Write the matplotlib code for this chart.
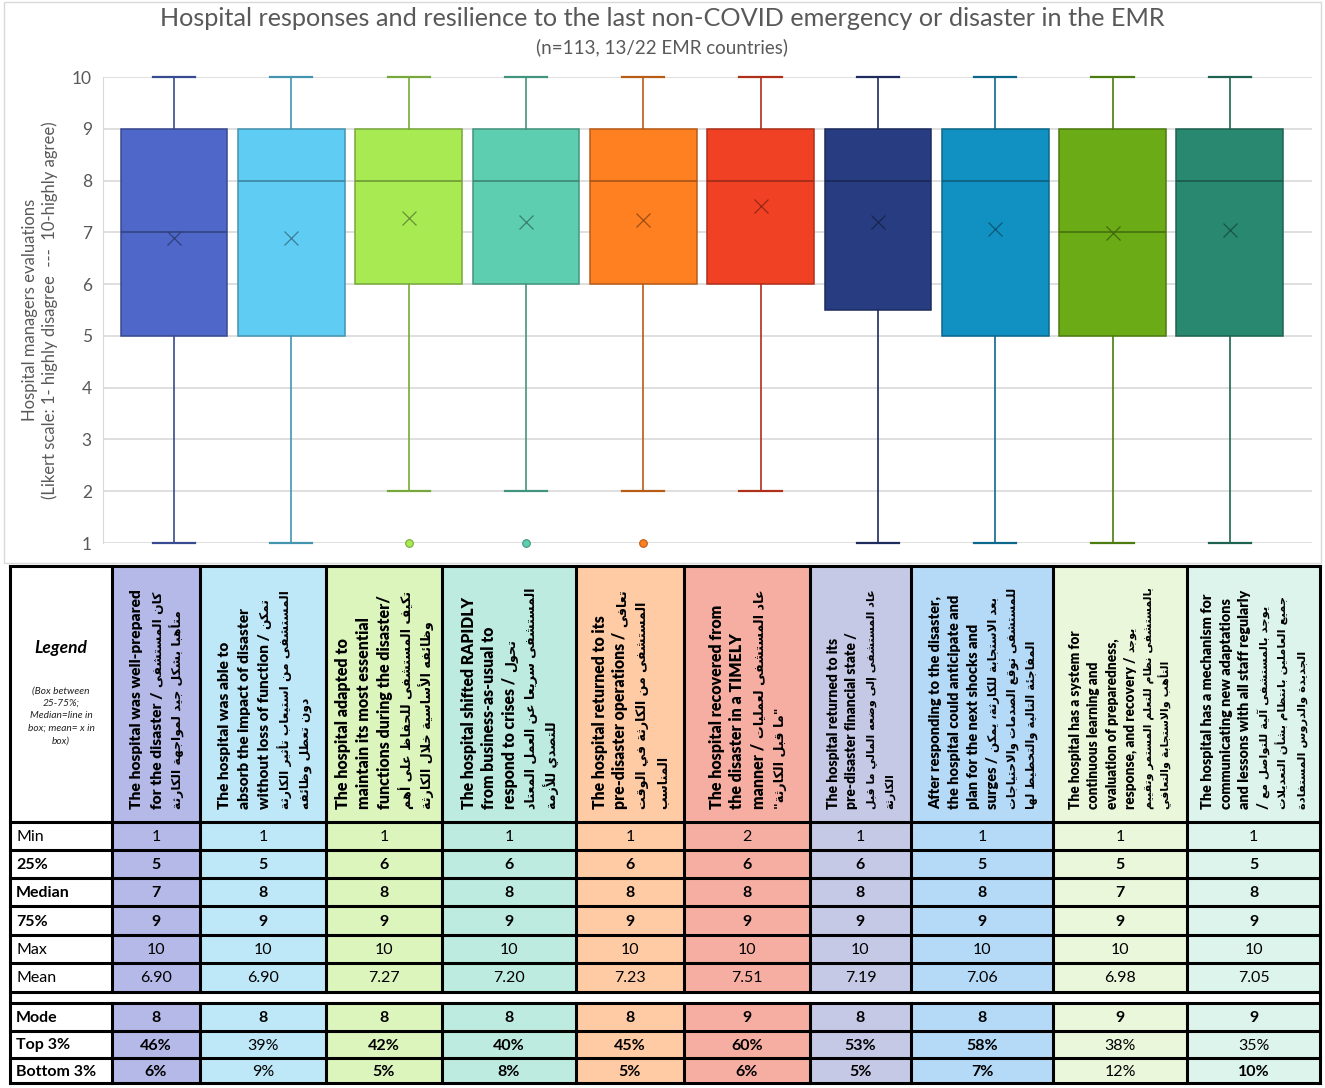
import matplotlib
matplotlib.use("Agg")
import matplotlib.pyplot as plt
from matplotlib.patches import Rectangle
import numpy as np

# ---------------- data ----------------
header_lines = [
    [("The hospital was well-prepared", ""), ("for the disaster /", "كان المستشفى"),
     ("", "متأهبا بشكل جيد لمواجهة الكارثة")],
    [("The hospital was able to", ""), ("absorb the impact of disaster", ""),
     ("without loss of function /", "تمكن"), ("", "المستشفى من استيعاب تأثير الكارثة"),
     ("", "دون تعطل وظائفه")],
    [("The hospital adapted to", ""), ("maintain its most essential", ""),
     ("functions during the disaster/", ""), ("", "تكيف المستشفى للحفاظ على أهم"),
     ("", "وظائفه الأساسية خلال الكارثة")],
    [("The hospital shifted RAPIDLY", ""), ("from business-as-usual to", ""),
     ("respond to crises /", "تحول"), ("", "المستشفى سريعا عن العمل المعتاد"),
     ("", "للتصدي للأزمة")],
    [("The hospital returned to its", ""), ("pre-disaster operations /", "تعافى"),
     ("", "المستشفى من الكارثة في الوقت"), ("", "المناسب")],
    [("The hospital recovered from", ""), ("the disaster in a TIMELY", ""),
     ("manner /", "عاد المستشفى لعمليات"), ("", '"ما قبل الكارثة"')],
    [("The hospital returned to its", ""), ("pre-disaster financial state /", ""),
     ("", "عاد المستشفى إلى وضعه المالي ما قبل"), ("", "الكارثة")],
    [("After responding to the disaster,", ""), ("the hospital could anticipate and", ""),
     ("plan for the next shocks and", ""), ("surges /", "بعد الاستجابة للكارثة، يمكن"),
     ("", "للمستشفى توقع الصدمات والاحتياجات"), ("", "المفاجئة التالية والتخطيط لها")],
    [("The hospital has a system for", ""), ("continuous learning and", ""),
     ("evaluation of preparedness,", ""), ("response, and recovery /", "يوجد"),
     ("", "بالمستشفى نظام للتعلم المستمر وتقييم"), ("", "التأهب والاستجابة والتعافي")],
    [("The hospital has a mechanism for", ""), ("communicating new adaptations", ""),
     ("and lessons with all staff regularly", ""), ("/", "يوجد بالمستشفى آلية للتواصل مع"),
     ("", "جميع العاملين بانتظام بشأن التعديلات"), ("", "الجديدة والدروس المستفادة")],
]

whisker_low = [1, 1, 2, 2, 2, 2, 1, 1, 1, 1]
q1_box = [5, 5, 6, 6, 6, 6, 5.5, 5, 5, 5]
medians = [7, 8, 8, 8, 8, 8, 8, 8, 7, 8]
q3_vals = [9, 9, 9, 9, 9, 9, 9, 9, 9, 9]
max_vals = [10, 10, 10, 10, 10, 10, 10, 10, 10, 10]
means = [6.90, 6.90, 7.27, 7.20, 7.23, 7.51, 7.19, 7.06, 6.98, 7.05]
outliers = [[], [], [1], [1], [1], [], [], [], [], []]

table_min = [1, 1, 1, 1, 1, 2, 1, 1, 1, 1]
table_q1 = [5, 5, 6, 6, 6, 6, 6, 5, 5, 5]
modes = [8, 8, 8, 8, 8, 9, 8, 8, 9, 9]
top3 = [46, 39, 42, 40, 45, 60, 53, 58, 38, 35]
bottom3 = [6, 9, 5, 8, 5, 6, 5, 7, 12, 10]

row_labels = ["Min", "25%", "Median", "75%", "Max", "Mean", "Mode", "Top 3%", "Bottom 3%"]
yticks = [1, 2, 3, 4, 5, 6, 7, 8, 9, 10]

# ---------------- styles ----------------
fills = ['#4E67C8', '#5ECCF3', '#A7EA52', '#5DCEAF', '#FF8021',
         '#F14124', '#283C81', '#1191C1', '#6AAB16', '#298970']
lights = ['#B4B9E8', '#BEE8F8', '#DCF5BD', '#BEEBDF', '#FFCBA4',
          '#F7AEA2', '#C6C9E6', '#B5DAF7', '#EBF7DB', '#DDF4EC']
label_bold = [False, True, True, True, False, False, True, True, True]
top3_bold = [1, 0, 1, 1, 1, 1, 1, 1, 0, 0]
bottom3_bold = [1, 0, 1, 1, 1, 1, 1, 1, 0, 1]
GRAY = '#595959'
FAM = ['Lato', 'DejaVu Sans']
AR_FAM = ['DejaVu Sans']
AR_FAC = 0.80
HDR_WEIGHT = 'heavy'
plt.rcParams['font.family'] = FAM

# ---------------- Arabic shaping ----------------
_tab = [(0x0621, 0xFE80, 1), (0x0622, 0xFE81, 2), (0x0623, 0xFE83, 2), (0x0624, 0xFE85, 2),
        (0x0625, 0xFE87, 2), (0x0626, 0xFE89, 4), (0x0627, 0xFE8D, 2), (0x0628, 0xFE8F, 4),
        (0x0629, 0xFE93, 2), (0x062A, 0xFE95, 4), (0x062B, 0xFE99, 4), (0x062C, 0xFE9D, 4),
        (0x062D, 0xFEA1, 4), (0x062E, 0xFEA5, 4), (0x062F, 0xFEA9, 2), (0x0630, 0xFEAB, 2),
        (0x0631, 0xFEAD, 2), (0x0632, 0xFEAF, 2), (0x0633, 0xFEB1, 4), (0x0634, 0xFEB5, 4),
        (0x0635, 0xFEB9, 4), (0x0636, 0xFEBD, 4), (0x0637, 0xFEC1, 4), (0x0638, 0xFEC5, 4),
        (0x0639, 0xFEC9, 4), (0x063A, 0xFECD, 4), (0x0641, 0xFED1, 4), (0x0642, 0xFED5, 4),
        (0x0643, 0xFED9, 4), (0x0644, 0xFEDD, 4), (0x0645, 0xFEE1, 4), (0x0646, 0xFEE5, 4),
        (0x0647, 0xFEE9, 4), (0x0648, 0xFEED, 2), (0x0649, 0xFEEF, 2), (0x064A, 0xFEF1, 4)]
_AR = {chr(cp): [chr(b + k) for k in range(n)] for cp, b, n in _tab}
_LAMALEF = {'\u0622': ('\uFEF5', '\uFEF6'), '\u0623': ('\uFEF7', '\uFEF8'),
            '\u0625': ('\uFEF9', '\uFEFA'), '\u0627': ('\uFEFB', '\uFEFC')}


def shape_ar(text):
    s = [c for c in text if not ('\u064B' <= c <= '\u0652' or c == '\u0640')]
    toks = []
    i = 0
    while i < len(s):
        c = s[i]
        if c == '\u0644' and i + 1 < len(s) and s[i + 1] in _LAMALEF:
            toks.append(('L', _LAMALEF[s[i + 1]]))
            i += 2
            continue
        toks.append(('A', _AR[c]) if c in _AR else ('O', c))
        i += 1
    out = []
    for j, (kind, f) in enumerate(toks):
        if kind == 'O':
            out.append(f)
            continue
        prev = toks[j - 1] if j > 0 else None
        nxt = toks[j + 1] if j + 1 < len(toks) else None
        jp = prev is not None and prev[0] == 'A' and len(prev[1]) == 4
        if kind == 'L':
            out.append(f[1] if jp else f[0])
            continue
        jp = jp and len(f) >= 2
        jn = len(f) == 4 and nxt is not None and (nxt[0] == 'L' or (nxt[0] == 'A' and len(nxt[1]) >= 2))
        if jp and jn:
            out.append(f[3])
        elif jp:
            out.append(f[1])
        elif jn:
            out.append(f[2])
        else:
            out.append(f[0])
    return ''.join(out)


def ar(text):
    return shape_ar(text)[::-1] if text else ''


# ---------------- figure ----------------
W, H = 1325, 1088
fig = plt.figure(figsize=(W / 100, H / 100), dpi=100)
fig.patch.set_facecolor('white')

tab = fig.add_axes([0, 0, 1, 1], zorder=0)
tab.set_xlim(0, W)
tab.set_ylim(H, 0)
tab.axis('off')
tab.add_patch(Rectangle((4, 2), W - 8, 561, fill=False, edgecolor='#D9D9D9', lw=1))

ax_l, ax_r, ax_t, ax_b = 103, 1312, 77, 543
ax = fig.add_axes([ax_l / W, 1 - ax_b / H, (ax_r - ax_l) / W, (ax_b - ax_t) / H], zorder=2)
ax.set_facecolor('none')

n = len(medians)
positions = np.arange(1, n + 1)
stats = []
for i in range(n):
    stats.append(dict(whislo=whisker_low[i], q1=q1_box[i], med=medians[i], q3=q3_vals[i],
                      whishi=max_vals[i], mean=means[i], fliers=outliers[i]))


def darker(c, f):
    r, g, b = matplotlib.colors.to_rgb(c)
    return (r * f, g * f, b * f)


bp = ax.bxp(stats, positions=positions, widths=0.91, capwidths=0.36, patch_artist=True,
            showmeans=True, showfliers=True, manage_ticks=False)
for i in range(n):
    ec = darker(fills[i], 0.72)
    mc = darker(fills[i], 0.62)
    box = bp['boxes'][i]
    box.set_facecolor(fills[i]); box.set_edgecolor(ec); box.set_linewidth(1.1)
    box.set_clip_on(False)
    for k in (2 * i, 2 * i + 1):
        bp['whiskers'][k].set_color(ec); bp['whiskers'][k].set_linewidth(1.2)
        bp['caps'][k].set_color(ec); bp['caps'][k].set_linewidth(1.6)
        bp['caps'][k].set_clip_on(False); bp['whiskers'][k].set_clip_on(False)
    bp['medians'][i].set_color(mc); bp['medians'][i].set_linewidth(1.1)
    m = bp['means'][i]
    m.set_marker('x'); m.set_markersize(10); m.set_markeredgecolor(mc)
    m.set_markeredgewidth(0.9); m.set_markerfacecolor('none')
    fl = bp['fliers'][i]
    fl.set_marker('o'); fl.set_markersize(5.5); fl.set_markerfacecolor(fills[i])
    fl.set_markeredgecolor(ec); fl.set_markeredgewidth(0.8); fl.set_clip_on(False)

ax.set_ylim(1, 10)
ax.set_xlim(0.395, 10.70)
ax.set_yticks(yticks)
ax.set_yticklabels([str(v) for v in yticks], fontsize=12.5, color=GRAY)
ax.tick_params(axis='y', length=0, pad=8)
ax.set_xticks([])
ax.grid(axis='y', color='#D9D9D9', lw=1.2)
ax.set_axisbelow(True)
for s in ('top', 'right', 'bottom'):
    ax.spines[s].set_visible(False)
ax.spines['left'].set_color('#D9D9D9')

fig.text(0.5, 1 - 18 / H, "Hospital responses and resilience to the last non-COVID emergency or disaster in the EMR",
         ha='center', va='center', fontsize=18.2, color=GRAY)
fig.text(0.5, 1 - 47 / H, "(n=113, 13/22 EMR countries)", ha='center', va='center',
         fontsize=13.5, color=GRAY)
fig.text(40 / W, 1 - 310 / H,
         "Hospital managers evaluations\n(Likert scale: 1- highly disagree  ---  10-highly agree)",
         rotation=90, ha='center', va='center', multialignment='center', fontsize=12,
         color=GRAY, linespacing=1.3)

# ---------------- table ----------------
col_x = [10, 112, 200, 326, 442, 576, 684, 810, 911, 1053, 1187, 1320]
hdr_top, hdr_bot = 566, 822
rows_a = [822, 850, 878, 906, 935, 963, 992]
rows_b = [1003, 1031, 1058, 1083]

for i in range(n):
    x0, x1 = col_x[i + 1], col_x[i + 2]
    tab.add_patch(Rectangle((x0, hdr_top), x1 - x0, rows_a[-1] - hdr_top, color=lights[i], lw=0))
    tab.add_patch(Rectangle((x0, rows_b[0]), x1 - x0, rows_b[-1] - rows_b[0], color=lights[i], lw=0))

LW = 2.2
for y in [hdr_top] + rows_a + rows_b:
    tab.plot([col_x[0], col_x[-1]], [y, y], color='black', lw=LW, solid_capstyle='projecting')
for x in col_x:
    if x in (col_x[0], col_x[-1]):
        tab.plot([x, x], [hdr_top, rows_b[-1]], color='black', lw=LW)
    else:
        tab.plot([x, x], [hdr_top, rows_a[-1]], color='black', lw=LW)
        tab.plot([x, x], [rows_b[0], rows_b[-1]], color='black', lw=LW)

lx = (col_x[0] + col_x[1]) / 2
tab.text(lx, 648, "Legend", ha='center', va='center', fontsize=12.5, fontweight='bold',
         fontstyle='italic', color='black')
tab.text(lx, 716, "(Box between\n25-75%;\nMedian=line in\nbox; mean= x in\nbox)", ha='center',
         va='center', fontsize=7.3, fontstyle='italic', color='#222222', linespacing=1.5)

renderer = fig.canvas.get_renderer()


def measure(text, family, size, weight):
    t = tab.text(0, 0, text, fontsize=size, fontweight=weight, family=family)
    w = t.get_window_extent(renderer).width
    t.remove()
    return w


def pt2px(p):
    return p * 100 / 72


BASE = 10.0
TARGET = 220
Y0 = 809
SPACING = 1.3
for i in range(n):
    x0, x1 = col_x[i + 1], col_x[i + 2]
    lines = header_lines[i]
    widths = []
    for en, a in lines:
        w = 0
        if en:
            w += measure(en, FAM, BASE, HDR_WEIGHT)
        if en and a:
            w += 0.3 * pt2px(BASE)
        if a:
            w += measure(ar(a), AR_FAM, BASE * AR_FAC, 'bold')
        widths.append(w)
    size = BASE * TARGET / max(widths)
    nl = len(lines)
    size = min(size, (x1 - x0 - 12) / nl / SPACING * 72 / 100)
    d = SPACING * pt2px(size)
    xc = (x0 + x1) / 2
    for k, (en, a) in enumerate(lines):
        xb = xc + (k - (nl - 1) / 2) * d + 0.36 * pt2px(size)
        y = Y0
        if en:
            t = tab.text(xb, y, en, rotation=90, rotation_mode='anchor', ha='left',
                         va='baseline', fontsize=size, fontweight=HDR_WEIGHT, family=FAM,
                         color='black')
            y -= t.get_window_extent(renderer).height
            if a:
                y -= 0.3 * pt2px(size)
        if a:
            tab.text(xb, y, ar(a), rotation=90, rotation_mode='anchor', ha='left',
                     va='baseline', fontsize=size * AR_FAC, fontweight='bold', family=AR_FAM,
                     color='black')

all_rows = [
    [str(v) for v in table_min],
    [str(v) for v in table_q1],
    [str(v) for v in medians],
    [str(v) for v in q3_vals],
    [str(v) for v in max_vals],
    ["%.2f" % v for v in means],
    [str(v) for v in modes],
    ["%d%%" % v for v in top3],
    ["%d%%" % v for v in bottom3],
]
row_bounds = list(zip(rows_a[:-1], rows_a[1:])) + list(zip(rows_b[:-1], rows_b[1:]))
for r, (ya, yb) in enumerate(row_bounds):
    yc = (ya + yb) / 2 + 1
    tab.text(16, yc, row_labels[r], ha='left', va='center', fontsize=11.5,
             fontweight='bold' if label_bold[r] else 'normal', color='black')
    for i in range(n):
        if r == 7:
            b = top3_bold[i]
        elif r == 8:
            b = bottom3_bold[i]
        else:
            b = label_bold[r]
        xc = (col_x[i + 1] + col_x[i + 2]) / 2
        tab.text(xc, yc, all_rows[r][i], ha='center', va='center', fontsize=11.5,
                 fontweight='bold' if b else 'normal', color='black')

fig.savefig("out.png", dpi=100, facecolor='white')
